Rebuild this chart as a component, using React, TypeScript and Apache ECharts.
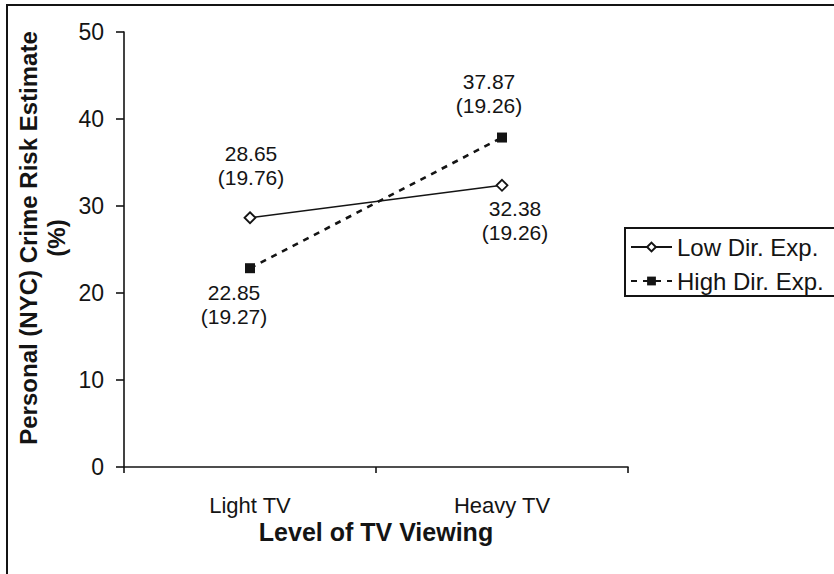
import React, { useEffect, useRef } from "react";
import * as echarts from "echarts";

const categories = ["Light TV", "Heavy TV"];
const seriesNames = ["Low Dir. Exp.", "High Dir. Exp."];
const lowDirMeans = [28.65, 32.38];
const lowDirSDs = [19.76, 19.26];
const highDirMeans = [22.85, 37.87];
const highDirSDs = [19.27, 19.26];
const yMin = 0;
const yMax = 50;
const yInterval = 10;
const xTitle = "Level of TV Viewing";
const yTitle = "Personal (NYC) Crime Risk Estimate\n(%)";

const FONT = "'Liberation Sans', Arial, Helvetica, sans-serif";
const INK = "#141414";

export default function App() {
  const ref = useRef<HTMLDivElement>(null);
  useEffect(() => {
    if (!ref.current) return;
    const chart = echarts.init(ref.current, null, { renderer: "svg" });
    const lowOffsets = [[1, -52], [13, 35]];
    const highOffsets = [[-16, 36], [-13, -44]];
    const labelBase = {
      show: true,
      position: "inside",
      align: "center",
      verticalAlign: "middle",
      fontFamily: FONT,
      fontSize: 21,
      lineHeight: 24,
      color: INK,
    };
    chart.setOption({
      animation: false,
      backgroundColor: "#ffffff",
      textStyle: { fontFamily: FONT, color: INK },
      grid: { left: 124, right: 206, top: 32, bottom: 107, containLabel: false },
      legend: {
        orient: "vertical",
        left: 626,
        top: 229,
        data: seriesNames,
        itemWidth: 41,
        itemHeight: 11,
        itemGap: 10,
        padding: [6, 0, 2, 4],
        borderWidth: 0,
        textStyle: { fontFamily: FONT, fontSize: 24, color: INK },
      },
      xAxis: {
        type: "category",
        data: categories,
        boundaryGap: true,
        axisLine: { show: true, lineStyle: { color: INK, width: 1.6 } },
        axisTick: { show: true, length: 6, lineStyle: { color: INK, width: 1.6 } },
        axisLabel: { fontFamily: FONT, fontSize: 22, color: INK, margin: 27 },
        splitLine: { show: false },
      },
      yAxis: {
        type: "value",
        min: yMin,
        max: yMax,
        interval: yInterval,
        axisLine: { show: true, lineStyle: { color: INK, width: 1.6 } },
        axisTick: { show: true, length: 8, lineStyle: { color: INK, width: 1.6 } },
        axisLabel: { fontFamily: FONT, fontSize: 23, color: INK, margin: 20 },
        splitLine: { show: false },
      },
      graphic: [
        {
          type: "polyline",
          shape: { points: [[1000, 5], [7, 5], [7, 1000]] },
          style: { fill: "none", stroke: INK, lineWidth: 2 },
          silent: true,
        },
        {
          type: "polyline",
          shape: { points: [[1000, 228], [625, 228], [625, 296], [1000, 296]] },
          style: { fill: "none", stroke: INK, lineWidth: 2 },
          silent: true,
        },
        {
          type: "text",
          x: 42,
          y: 238,
          rotation: Math.PI / 2,
          style: {
            text: yTitle,
            fontFamily: FONT,
            fontWeight: "bold",
            fontSize: 24,
            lineHeight: 28,
            align: "center",
            verticalAlign: "middle",
            fill: INK,
          },
        },
        {
          type: "text",
          x: 376,
          y: 532,
          style: {
            text: xTitle,
            fontFamily: FONT,
            fontWeight: "bold",
            fontSize: 25,
            align: "center",
            verticalAlign: "middle",
            fill: INK,
          },
        },
      ],
      series: [
        {
          name: seriesNames[0],
          type: "line",
          data: lowDirMeans.map((v, i) => ({ value: v, label: { offset: lowOffsets[i] } })),
          symbol: "diamond",
          symbolSize: 11,
          showAllSymbol: true,
          lineStyle: { color: INK, width: 1.6, type: "solid" },
          itemStyle: { color: "#ffffff", borderColor: INK, borderWidth: 1.8 },
          label: {
            ...labelBase,
            formatter: (p: any) => `${p.value.toFixed(2)}\n(${lowDirSDs[p.dataIndex].toFixed(2)})`,
          },
          z: 3,
        },
        {
          name: seriesNames[1],
          type: "line",
          data: highDirMeans.map((v, i) => ({ value: v, label: { offset: highOffsets[i] } })),
          symbol: "rect",
          symbolSize: 10,
          showAllSymbol: true,
          lineStyle: { color: INK, width: 2.6, type: [6, 6] },
          itemStyle: { color: INK, borderColor: INK, borderWidth: 0 },
          label: {
            ...labelBase,
            formatter: (p: any) => `${p.value.toFixed(2)}\n(${highDirSDs[p.dataIndex].toFixed(2)})`,
          },
          z: 2,
        },
      ],
    });
    return () => chart.dispose();
  }, []);
  return (
    <div
      ref={ref}
      style={{ position: "fixed", left: 0, top: 0, width: 834, height: 574, background: "#fff" }}
    />
  );
}
